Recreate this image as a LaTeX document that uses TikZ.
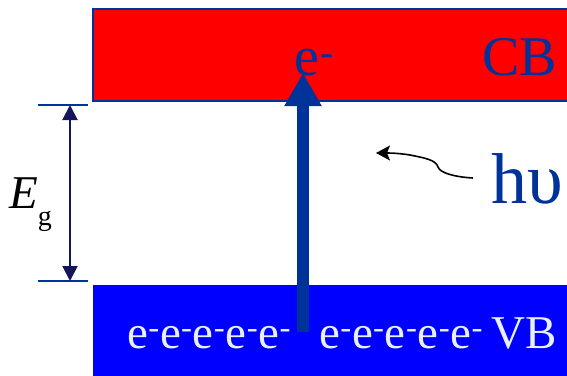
\documentclass[tikz,border=0pt]{standalone}
\usepackage{fontspec}
\setmainfont{Liberation Serif}
\usetikzlibrary{arrows.meta}
\definecolor{navy}{HTML}{003399}
\definecolor{darknavy}{HTML}{15155E}
\definecolor{paleblue}{HTML}{E8F0FF}
\newcommand{\elc}{e\kern0.3pt\textsuperscript{-}\kern0.2pt}
\begin{document}
\begin{tikzpicture}[x=1pt,y=-1pt,
  band/.style={anchor=north west,inner sep=0pt,outer sep=0pt},
  lbl/.style={inner sep=0pt,anchor=base west},
  dimline/.style={draw=navy,line width=2pt}]
\useasboundingbox (0,0) rectangle (567,375);
% bands
\node[band,fill=red,draw=navy,line width=2pt,minimum width=480pt,minimum height=92pt] (cb) at (93,9) {};
\node[band,fill=blue,minimum width=480pt,minimum height=95pt] (vb) at (93,285) {};
% dimension
\coordinate (t1) at (38,105); \coordinate (t2) at (88,105);
\coordinate (b1) at (38,281); \coordinate (b2) at (88,281);
\coordinate (at) at (70,105); \coordinate (ab) at (70,281);
\draw[dimline] (t1) -- (t2);
\draw[dimline] (b1) -- (b2);
\draw[darknavy,line width=2pt,{Triangle[length=15pt,width=15pt]}-{Triangle[length=15pt,width=15pt]}] (at) -- (ab);
\node[lbl,font=\fontsize{47}{47}\selectfont\itshape] (eg) at (9,208) {E\kern0pt\raisebox{-17pt}{\fontsize{28}{28}\selectfont\upshape g}};
% big arrow
\coordinate (as) at (303,332);
\coordinate (ae) at (303,73);
\draw[navy,line width=12pt,-{Triangle[length=33pt,width=35pt]}] (as) -- (ae);
% labels
\node[lbl,navy,font=\fontsize{56}{56}\selectfont] (el) at (294,75) {e\kern1pt\textsuperscript{-}};
\node[lbl,navy,font=\fontsize{56}{56}\selectfont] (cbl) at (482,75) {CB};
\node[lbl,navy,font=\fontsize{72}{72}\selectfont] (hv) at (491,203) {hυ};
\node[lbl,paleblue,font=\fontsize{47}{47}\selectfont] (e1) at (127,348) {\elc\elc\elc\elc\elc};
\node[lbl,paleblue,font=\fontsize{47}{47}\selectfont] (e2) at (319,348) {\elc\elc\elc\elc\elc};
\node[lbl,paleblue,font=\fontsize{47}{47}\selectfont] (vbl) at (491,348) {VB};
% photon arrow
\coordinate (pt) at (473,178);
\coordinate (ph) at (376,153);
\draw[black,line width=1.6pt,-{Stealth[length=14pt,width=15pt,inset=3pt]}] (pt) .. controls (455,177) and (440,173) .. (438,167) .. controls (436,160) and (425,158) .. (410,155) .. controls (398,153) and (388,153) .. (ph);
\end{tikzpicture}
\end{document}
